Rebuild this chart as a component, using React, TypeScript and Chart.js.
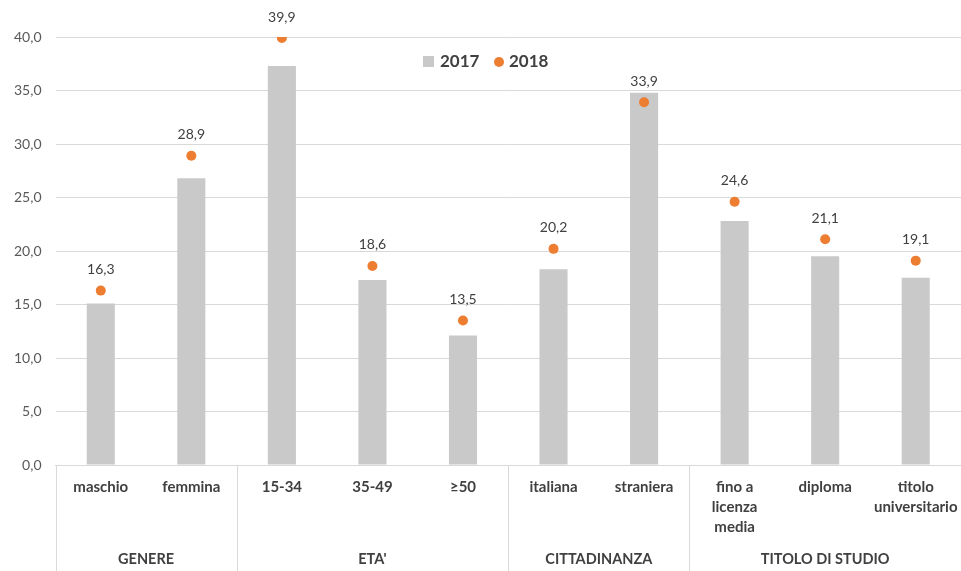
import React, { useEffect, useRef } from "react";
import { Chart, registerables } from "chart.js";

Chart.register(...registerables);

const categories: string[][] = [
  ["maschio"],
  ["femmina"],
  ["15-34"],
  ["35-49"],
  ["≥50"],
  ["italiana"],
  ["straniera"],
  ["fino a", "licenza", "media"],
  ["diploma"],
  ["titolo", "universitario"],
];
const groups = [
  { label: "GENERE", from: 0, to: 1 },
  { label: "ETA'", from: 2, to: 4 },
  { label: "CITTADINANZA", from: 5, to: 6 },
  { label: "TITOLO DI STUDIO", from: 7, to: 9 },
];
const values2017 = [15.1, 26.8, 37.3, 17.3, 12.1, 18.3, 34.8, 22.8, 19.5, 17.5];
const values2018 = [16.3, 28.9, 39.9, 18.6, 13.5, 20.2, 33.9, 24.6, 21.1, 19.1];
const seriesNames = ["2017", "2018"];
const yTicks = { min: 0, max: 40, step: 5 };

const GRAY = "#C9C9C9";
const ORANGE = "#ED7D31";
const TEXT = "#404040";
const GRID = "#D9D9D9";
const FONT = "Lato, 'Open Sans', sans-serif";

const fmt = (v: number) => v.toFixed(1).replace(".", ",");

const extrasPlugin = {
  id: "extras",
  afterDraw(chart: any) {
    const ctx = chart.ctx as CanvasRenderingContext2D;
    const x = chart.scales.x;
    const area = chart.chartArea;
    const n = categories.length;
    const cw = (area.right - area.left) / n;
    ctx.save();
    // group separators
    ctx.strokeStyle = GRID;
    ctx.lineWidth = 1;
    const seps = [0, ...groups.map((g) => g.to + 1)];
    seps.forEach((i) => {
      const px = Math.round(area.left + i * cw) + 0.5;
      if (px > chart.width) return;
      ctx.beginPath();
      ctx.moveTo(px, area.bottom);
      ctx.lineTo(px, chart.height);
      ctx.stroke();
    });
    // group labels
    ctx.fillStyle = TEXT;
    ctx.font = `bold 14.5px ${FONT}`;
    ctx.textAlign = "center";
    ctx.textBaseline = "middle";
    groups.forEach((g) => {
      const cx = (x.getPixelForValue(g.from) + x.getPixelForValue(g.to)) / 2;
      ctx.fillText(g.label, cx, 559);
    });
    // data labels for 2018
    ctx.font = `14px ${FONT}`;
    ctx.fillStyle = TEXT;
    const meta = chart.getDatasetMeta(1);
    meta.data.forEach((pt: any, i: number) => {
      ctx.fillText(fmt(values2018[i]), pt.x, pt.y - 21);
    });
    // legend
    const ly = 61;
    ctx.fillStyle = GRAY;
    ctx.fillRect(423, ly - 5, 11, 11);
    ctx.fillStyle = TEXT;
    ctx.font = `bold 17px ${FONT}`;
    ctx.textAlign = "left";
    ctx.fillText(seriesNames[0], 440, ly + 1);
    ctx.fillStyle = ORANGE;
    ctx.beginPath();
    ctx.arc(499, ly + 1, 5, 0, Math.PI * 2);
    ctx.fill();
    ctx.fillStyle = TEXT;
    ctx.fillText(seriesNames[1], 509, ly + 1);
    ctx.restore();
  },
};

export default function App() {
  const ref = useRef<HTMLCanvasElement>(null);
  useEffect(() => {
    document.body.style.margin = "0";
    const chart = new Chart(ref.current!, {
      type: "bar",
      data: {
        labels: categories,
        datasets: [
          {
            type: "bar",
            label: seriesNames[0],
            data: values2017,
            backgroundColor: GRAY,
            barPercentage: 0.31,
            categoryPercentage: 1,
            order: 2,
          },
          {
            type: "line",
            label: seriesNames[1],
            data: values2018,
            showLine: false,
            pointRadius: 5,
            pointBackgroundColor: ORANGE,
            pointBorderWidth: 0,
            borderColor: ORANGE,
            backgroundColor: ORANGE,
            order: 1,
          } as any,
        ],
      },
      options: {
        animation: false,
        responsive: false,
        layout: { autoPadding: false, padding: { top: 37, right: -1, left: 0.5, bottom: 0 } },
        plugins: { legend: { display: false }, tooltip: { enabled: false } },
        scales: {
          x: {
            offset: true,
            grid: { display: false, drawTicks: false },
            border: { display: true, color: GRID, width: 1 },
            ticks: {
              color: TEXT,
              font: { family: FONT, size: 15, weight: "bold", lineHeight: 1.34 },
              padding: 12,
              maxRotation: 0,
              autoSkip: false,
            },
            afterFit: (s: any) => {
              s.height = 106;
              s.paddingLeft = 0;
              s.paddingRight = 0;
            },
          },
          y: {
            min: yTicks.min,
            max: yTicks.max,
            grid: { color: GRID, drawTicks: false },
            border: { display: false },
            ticks: {
              stepSize: yTicks.step,
              color: "#595959",
              font: { family: FONT, size: 14 },
              padding: 14,
              callback: (v: any) => fmt(Number(v)),
            },
            afterFit: (s: any) => {
              s.width = 55;
            },
          },
        },
      },
      plugins: [extrasPlugin],
    });
    return () => chart.destroy();
  }, []);
  return <canvas ref={ref} width={961} height={571} style={{ display: "block" }} />;
}
